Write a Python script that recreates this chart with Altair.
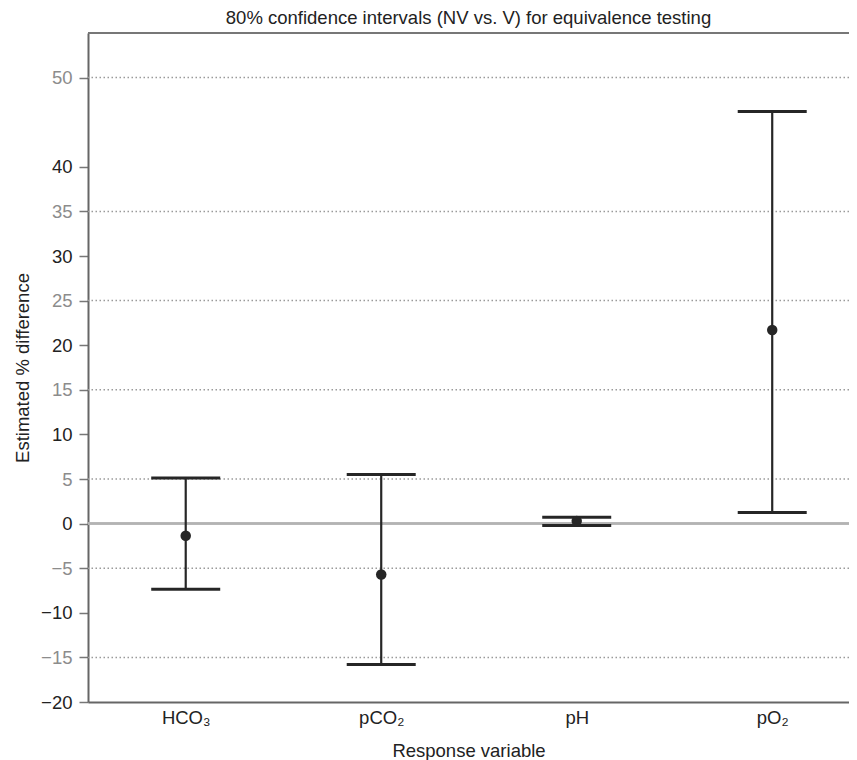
import altair as alt
import pandas as pd

# ---- data ----
categories = ["HCO₃", "pCO₂", "pH", "pO₂"]
estimate = [-1.37, -5.7, 0.3, 21.7]
lower_ci = [-7.35, -15.8, -0.2, 1.25]
upper_ci = [5.1, 5.5, 0.7, 46.2]

grid_values = [50, 35, 25, 15, 5, -5, -15]
tick_values = [-20, -15, -10, -5, 0, 5, 10, 15, 20, 25, 30, 35, 40, 50]
y_domain = [-20, 55]

title_text = "80% confidence intervals (NV vs. V) for equivalence testing"
x_title = "Response variable"
y_title = "Estimated % difference"

df = pd.DataFrame({"variable": categories, "estimate": estimate,
                   "lower": lower_ci, "upper": upper_ci})
grid_df = pd.DataFrame({"value": grid_values})

FONT = "Liberation Sans"
FS = 18.5
DARK = "#222222"
MARK = "#262626"

W, H = 761, 669

x_scale = alt.Scale(type="point", domain=categories, padding=0.4463, align=0.56)
y_scale = alt.Scale(domain=y_domain, nice=False, zero=False)

grid_list = ",".join(str(v) for v in grid_values)
y_axis = alt.Axis(
    title=y_title, values=tick_values, grid=False,
    labelFont=FONT, labelFontSize=FS,
    labelColor={"expr": f"indexof([{grid_list}], datum.value) >= 0 ? '#8c8c8c' : '{DARK}'"},
    labelPadding=7, tickSize=9, tickColor="#777777", tickWidth=1.5,
    domainColor="#666666", domainWidth=2,
    titleFont=FONT, titleFontSize=FS, titleFontWeight="normal", titleColor=DARK,
    titleAngle=270, titleBaseline="alphabetic", titleX=-60, titleY=H / 2,
    labelExpr="replace(datum.label, '-', '\u2212')",
)
x_axis = alt.Axis(
    title=x_title, labelFont=FONT, labelFontSize=FS, labelColor=DARK,
    labelPadding=6, ticks=False, tickSize=0, labelAngle=0,
    domainColor="#666666", domainWidth=2,
    titleFont=FONT, titleFontSize=FS, titleFontWeight="normal", titleColor=DARK,
    titleBaseline="alphabetic", titleY=54,
)

x_enc = alt.X("variable:N", scale=x_scale, sort=categories, axis=x_axis)

grid = alt.Chart(grid_df).mark_rule(
    color="#9a9a9a", strokeWidth=1.5, strokeDash=[1.5, 2.5]
).encode(y=alt.Y("value:Q", scale=y_scale, axis=y_axis))

zero_line = alt.Chart(df).mark_rule(color="#b3b3b3", strokeWidth=2).encode(
    y=alt.YDatum(0, scale=y_scale, axis=y_axis)
)

top_border = alt.Chart(df).mark_rule(color="#777777", strokeWidth=2).encode(
    y=alt.YDatum(y_domain[1], scale=y_scale, axis=y_axis)
)

bars = alt.Chart(df).mark_rule(color=MARK, strokeWidth=2.2).encode(
    x=x_enc,
    y=alt.Y("lower:Q", scale=y_scale, axis=y_axis),
    y2="upper:Q",
)

cap_hi = alt.Chart(df).mark_tick(color=MARK, thickness=3, size=69, orient="horizontal",
                                 opacity=1).encode(
    x=x_enc, y=alt.Y("upper:Q", scale=y_scale, axis=y_axis)
)
cap_lo = alt.Chart(df).mark_tick(color=MARK, thickness=3, size=69, orient="horizontal",
                                 opacity=1).encode(
    x=x_enc, y=alt.Y("lower:Q", scale=y_scale, axis=y_axis)
)

points = alt.Chart(df).mark_circle(color=MARK, size=110, opacity=1).encode(
    x=x_enc, y=alt.Y("estimate:Q", scale=y_scale, axis=y_axis)
)

chart = alt.layer(grid, zero_line, top_border, bars, cap_hi, cap_lo, points).properties(
    width=W, height=H,
    title=alt.TitleParams(title_text, font=FONT, fontSize=FS, fontWeight="normal",
                          color=DARK, anchor="middle", baseline="alphabetic",
                          offset=-10),
    autosize=alt.AutoSizeParams(type="none"),
    padding={"left": 80, "top": 25, "right": 0, "bottom": 58},
).configure_view(stroke=None).configure(background="white")

chart.save("out.html", embed_options={"renderer": "svg", "actions": False})
